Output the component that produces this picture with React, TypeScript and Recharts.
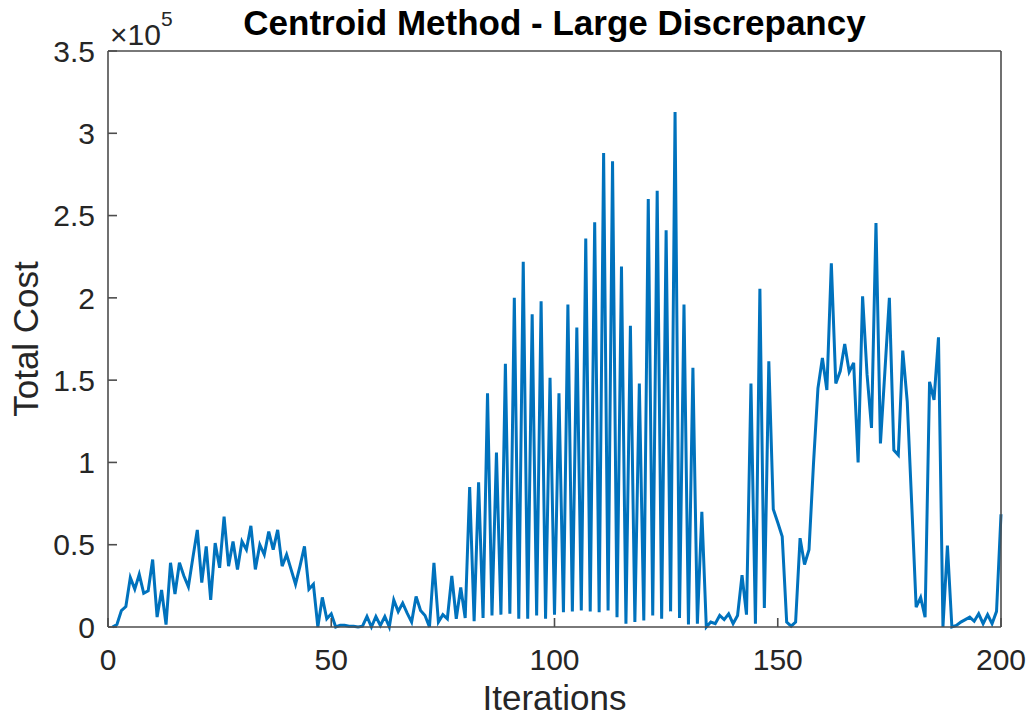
import { LineChart, Line, XAxis, YAxis, Label } from "recharts"

// total cost per iteration (1..200)
const costs = [
  0, 1500, 10000, 12400, 30000, 23000, 32000, 20500, 22000, 41000,
  6000, 22500, 1500, 39000, 20000, 39000, 31000, 24500, 42000, 59000,
  27000, 49000, 16500, 51000, 36000, 67000, 37000, 52000, 35000, 52000,
  47000, 61500, 35000, 50000, 44000, 58000, 47000, 59000, 37000, 44000,
  35000, 26000, 37000, 49000, 23000, 26000, 0, 18000, 5000, 8000,
  0, 1000, 1000, 500, 500, 0, 500, 6400, 0, 6400,
  1000, 6400, 0, 16500, 9400, 14500, 8400, 3000, 18500, 10000,
  7000, 0, 39000, 3000, 7500, 5000, 31000, 5000, 24000, 5500,
  85000, 3500, 88000, 5500, 142000, 7000, 106000, 7500, 160000, 8000,
  200000, 5000, 222000, 5000, 190000, 7000, 198000, 5000, 151500, 7500,
  142000, 9000, 196000, 9500, 182000, 10000, 236000, 9500, 246000, 9000,
  288000, 10000, 283000, 6000, 219000, 2000, 183000, 3000, 148000, 4000,
  260000, 7000, 265000, 5000, 241000, 9500, 313000, 5500, 196000, 1500,
  157500, 2000, 70000, 0, 3000, 2000, 7000, 4500, 8000, 2000,
  7000, 31500, 7500, 148000, 2000, 205500, 11500, 161500, 71500, 63500,
  55000, 3000, 500, 3000, 54000, 38000, 47000, 99000, 145000, 163500,
  144000, 221000, 148000, 155500, 172000, 155000, 160500, 100000, 201000, 153500,
  121000, 245500, 111500, 155500, 200000, 107500, 104500, 168000, 137000, 75000,
  12000, 18000, 6000, 149000, 138000, 176000, 0, 49500, 0, 1000,
  3000, 4500, 6000, 3500, 8000, 2000, 7500, 2000, 9500, 68500,
]

const xTicks = [0, 50, 100, 150, 200]
const yTicks = [0, 50000, 100000, 150000, 200000, 250000, 300000, 350000]
const yScale = 100000

const data = costs.map((cost, i) => ({ iteration: i + 1, cost }))

const FONT = '"Liberation Sans", Arial, Helvetica, sans-serif'
const TEXT = "#262626"
const AXIS = "#4d4d4d"

const tickStyle = { fill: TEXT, fontSize: 30, fontFamily: FONT }

function TitleLabel({ viewBox }: any) {
  return (
    <text
      x={viewBox.x + viewBox.width / 2}
      y={viewBox.y - 15}
      textAnchor="middle"
      fill="#000"
      fontSize={35}
      fontWeight="bold"
      fontFamily={FONT}
    >
      Centroid Method - Large Discrepancy
    </text>
  )
}

function ExponentLabel({ viewBox }: any) {
  return (
    <text x={viewBox.x + viewBox.width + 2} y={viewBox.y - 6} fill={TEXT} fontSize={30} fontFamily={FONT}>
      ×10
      <tspan dy={-19} fontSize={21}>5</tspan>
    </text>
  )
}

function YTitle({ viewBox }: any) {
  const x = 38
  const y = viewBox.y + viewBox.height / 2
  return (
    <text x={x} y={y} transform={`rotate(-90 ${x} ${y})`} textAnchor="middle" fill={TEXT} fontSize={35} fontFamily={FONT}>
      Total Cost
    </text>
  )
}

function XTitle({ viewBox }: any) {
  return (
    <text x={viewBox.x + viewBox.width / 2} y={710} textAnchor="middle" fill={TEXT} fontSize={35} fontFamily={FONT}>
      Iterations
    </text>
  )
}

export default function App() {
  return (
    <div style={{ position: "absolute", left: 0, top: 0, width: 1032, height: 721, background: "#fff" }}>
      <LineChart width={1032} height={721} data={data} margin={{ top: 50, right: 30, bottom: 0, left: 0 }}>
        <XAxis
          dataKey="iteration"
          type="number"
          domain={[0, 200]}
          ticks={xTicks}
          height={94}
          tickSize={-9}
          tickMargin={31}
          tick={tickStyle}
          axisLine={{ stroke: AXIS, strokeWidth: 1.6 }}
          tickLine={{ stroke: AXIS, strokeWidth: 1.6 }}
        >
          <Label content={XTitle} />
        </XAxis>
        <XAxis
          xAxisId="top"
          orientation="top"
          dataKey="iteration"
          type="number"
          domain={[0, 200]}
          ticks={xTicks}
          height={1}
          tickSize={-9}
          tick={false}
          axisLine={{ stroke: AXIS, strokeWidth: 1.6 }}
          tickLine={{ stroke: AXIS, strokeWidth: 1.6 }}
        >
          <Label content={TitleLabel} />
        </XAxis>
        <YAxis
          type="number"
          domain={[0, 350000]}
          ticks={yTicks}
          width={108}
          tickSize={-9}
          tickMargin={22}
          tickFormatter={(v: number) => String(v / yScale)}
          tick={tickStyle}
          axisLine={{ stroke: AXIS, strokeWidth: 1.6 }}
          tickLine={{ stroke: AXIS, strokeWidth: 1.6 }}
        >
          <Label content={ExponentLabel} />
          <Label content={YTitle} />
        </YAxis>
        <YAxis
          yAxisId="right"
          orientation="right"
          type="number"
          domain={[0, 350000]}
          ticks={yTicks}
          width={1}
          tickSize={-9}
          tick={false}
          axisLine={{ stroke: AXIS, strokeWidth: 1.6 }}
          tickLine={{ stroke: AXIS, strokeWidth: 1.6 }}
        />
        <Line
          type="linear"
          dataKey="cost"
          stroke="#0072BD"
          strokeWidth={3}
          dot={false}
          isAnimationActive={false}
        />
      </LineChart>
    </div>
  )
}
